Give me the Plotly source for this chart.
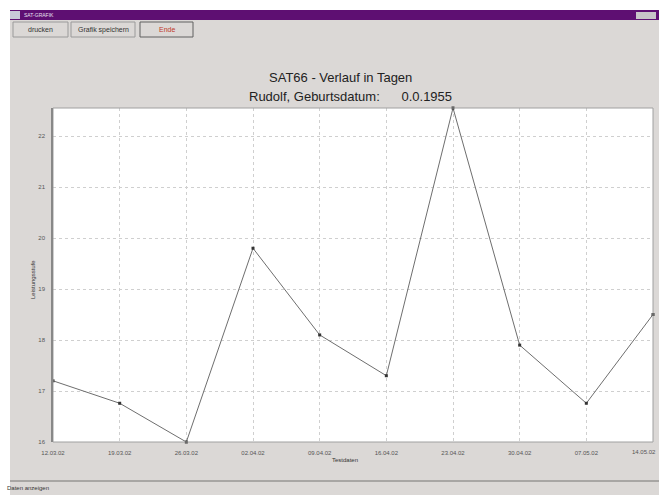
import plotly.graph_objects as go

# Data
dates = ["12.03.02", "19.03.02", "26.03.02", "02.04.02", "09.04.02",
         "16.04.02", "23.04.02", "30.04.02", "07.05.02", "14.05.02"]
values = [17.2, 16.76, 16.0, 19.8, 18.1, 17.3, 22.55, 17.9, 16.76, 18.5]
y_ticks = [16, 17, 18, 19, 20, 21, 22]
y_tick_labels = ["16", "17", "18", "19", "20", "21", "22"]

title1 = "SAT66 - Verlauf in Tagen"
title2 = "Rudolf, Geburtsdatum:      0.0.1955"
y_title = "Leistungsstufe"
x_title = "Testdaten"
buttons = ["drucken", "Grafik speichern", "Ende"]
status = "Daten anzeigen"

W, H = 659, 495
L, R, T, B = 53, 653, 108, 442
PW, PH = R - L, B - T
GRAY = "#dbd8d6"


def px(x):
    return (x - L) / PW


def py(y):
    return (B - y) / PH


fig = go.Figure()
fig.add_trace(go.Scatter(
    x=list(range(len(dates))), y=values, mode="lines+markers",
    line=dict(color="#6e6e6e", width=1),
    marker=dict(symbol="square", size=3, color="#333333"),
    hoverinfo="skip", showlegend=False, cliponaxis=False))

shapes = []
# window body
shapes.append(dict(type="rect", xref="paper", yref="paper",
                   x0=px(10), x1=px(660), y0=py(496), y1=py(10),
                   fillcolor=GRAY, line=dict(width=0), layer="below"))
# plot area white
shapes.append(dict(type="rect", xref="paper", yref="paper",
                   x0=0, x1=1, y0=0, y1=1,
                   fillcolor="white", line=dict(width=0), layer="below"))
# window title bar
shapes.append(dict(type="rect", xref="paper", yref="paper",
                   x0=px(10), x1=px(660), y0=py(20), y1=py(10),
                   fillcolor="#5e0f72", line=dict(width=0), layer="below"))
shapes.append(dict(type="rect", xref="paper", yref="paper",
                   x0=px(10), x1=px(20), y0=py(19), y1=py(11),
                   fillcolor="#c8c8d8", line=dict(width=0)))
shapes.append(dict(type="rect", xref="paper", yref="paper",
                   x0=px(636), x1=px(656), y0=py(19), y1=py(12),
                   fillcolor="#c8c4c8", line=dict(width=0)))
# buttons
btns = [(13, 68), (71, 135), (140, 193)]
for i, (a, b) in enumerate(btns):
    shapes.append(dict(type="rect", xref="paper", yref="paper",
                       x0=px(a), x1=px(b), y0=py(37), y1=py(22),
                       fillcolor=GRAY,
                       line=dict(color="#606060" if i == 2 else "#9a9a9a", width=1)))
# status bar separator
shapes.append(dict(type="line", xref="paper", yref="paper",
                   x0=px(10), x1=px(660), y0=py(481), y1=py(481),
                   line=dict(color="#a8a6a4", width=2)))
# plot area frame
shapes.append(dict(type="rect", xref="paper", yref="paper",
                   x0=0, x1=1, y0=0, y1=1,
                   line=dict(color="#a0a0a0", width=1)))
shapes.append(dict(type="line", xref="paper", yref="paper",
                   x0=px(52), x1=px(52), y0=0, y1=1,
                   line=dict(color="#888888", width=2)))

annotations = []


def ann(text, x, y, size, color="#333333", xa="center", angle=0):
    annotations.append(dict(text=text, x=px(x), y=py(y), xref="paper", yref="paper",
                            xanchor=xa, yanchor="middle", showarrow=False,
                            textangle=angle, font=dict(size=size, color=color)))


ann(title1, 340, 77, 13, "#222222")
ann(title2, 350, 97, 13, "#222222")
ann(y_title, 33, 280, 6, angle=-90)
ann(x_title, 345, 460, 6)
ann(status, 5, 488, 6, xa="left")
for i, (a, b) in enumerate(btns):
    ann(buttons[i], (a + b) / 2, 29.5, 7, "#c0392b" if i == 2 else "#333333")
ann("SAT-GRAFIK", 22, 15, 5, "#e8e0f0", xa="left")
# last date label, right-aligned so it stays inside the window
annotations.append(dict(text=dates[-1], x=len(dates) - 1, xref="x", xshift=5,
                        y=py(452), yref="paper", xanchor="right", yanchor="middle",
                        showarrow=False, font=dict(size=6, color="#555555")))

tick_text = dates[:-1] + [""]

fig.update_layout(
    width=W, height=H,
    margin=dict(l=L, r=W - R, t=T, b=H - B, autoexpand=False),
    paper_bgcolor="white", plot_bgcolor="white",
    font=dict(family="Arial, Liberation Sans, sans-serif"),
    shapes=shapes, annotations=annotations,
    xaxis=dict(range=[0, len(dates) - 1], tickmode="array",
               tickvals=list(range(len(dates))), ticktext=tick_text,
               tickfont=dict(size=6, color="#555555"),
               ticklabelstandoff=6, automargin=False,
               showgrid=True, gridcolor="#cfcfcf", griddash="3px,3px", gridwidth=1,
               zeroline=False, showline=False, ticks=""),
    yaxis=dict(range=[16, 22.55], tickmode="array", tickvals=y_ticks,
               ticktext=y_tick_labels, tickfont=dict(size=6, color="#555555"),
               ticklabelstandoff=7, automargin=False,
               showgrid=True, gridcolor="#cfcfcf", griddash="3px,3px", gridwidth=1,
               zeroline=False, showline=False, ticks=""),
)

fig.write_html("out.html", config={"displayModeBar": False},
               post_script="document.body.style.margin='0';document.body.style.overflow='hidden';")
